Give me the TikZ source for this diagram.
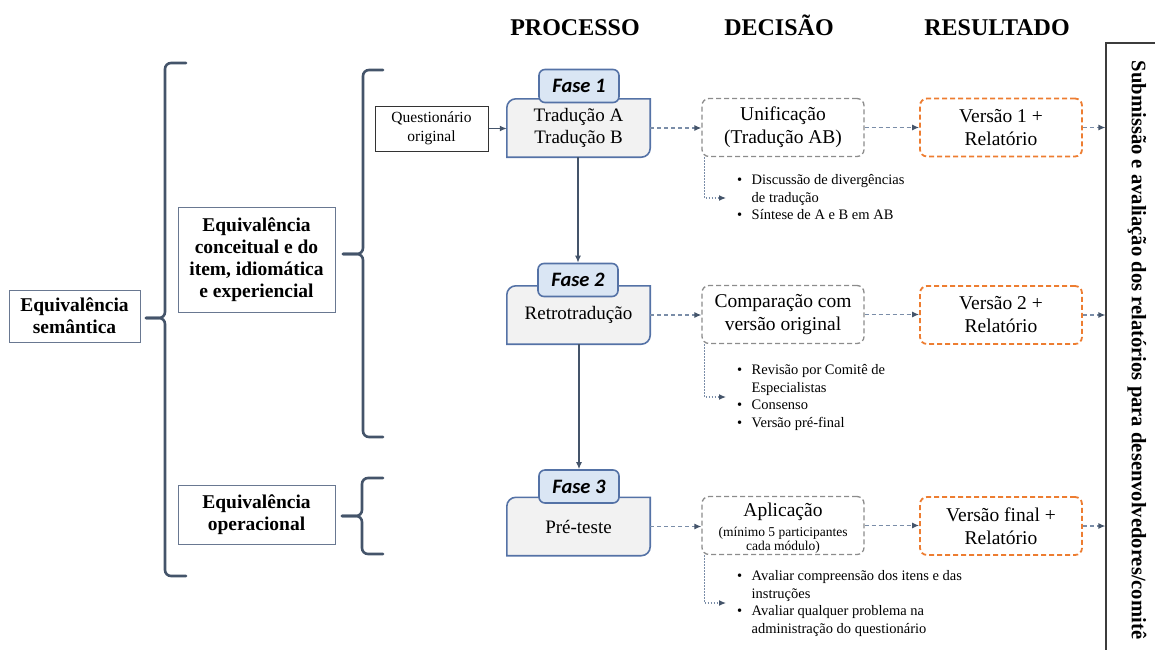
\documentclass[tikz,border=0pt]{standalone}
\usepackage{fontspec}
\setmainfont{Liberation Serif}
\newfontfamily\tabfont{Carlito}
\usetikzlibrary{arrows.meta,backgrounds}

\definecolor{procblue}{RGB}{84,114,166}
\definecolor{procfill}{RGB}{242,242,242}
\definecolor{tabfill}{RGB}{218,230,244}
\definecolor{dark}{RGB}{68,84,106}
\definecolor{dashblue}{RGB}{122,141,168}
\definecolor{decgray}{RGB}{140,140,140}
\definecolor{resorange}{RGB}{237,125,49}
\definecolor{eqborder}{RGB}{105,120,145}
\definecolor{sideline}{RGB}{60,60,60}

\newcommand\fs[2]{\fontsize{#1}{#2}\selectfont}
\newcommand\bul{\makebox[14.5pt][l]{\textbullet}}
\newcommand\ind{\hspace*{14.5pt}}

% process box: rounded top-left and bottom-right corners only
\newcommand\procshape[1]{%
  \filldraw[procline] (#1.south west) -- ([yshift=-9pt]#1.north west)
    arc[start angle=180,end angle=90,radius=9pt] -- (#1.north east)
    -- ([yshift=9pt]#1.south east)
    arc[start angle=0,end angle=-90,radius=9pt] -- cycle;}

\tikzset{
  head/.style={font=\fs{24}{28}\bfseries, inner sep=0, anchor=base},
  procarea/.style={minimum width=143pt, minimum height=58pt, inner sep=0,
    align=center, font=\fs{19}{22.5}},
  procline/.style={draw=procblue, fill=procfill, line width=1.6pt},
  tab/.style={draw=procblue, fill=tabfill, line width=1.6pt, rounded corners=6pt,
    minimum width=80pt, minimum height=33pt, inner sep=0,
    font=\tabfont\bfseries\itshape\fs{20.5}{24}},
  dec/.style={draw=decgray, dash pattern=on 5pt off 3pt, line width=1.3pt,
    rounded corners=7pt, minimum width=162pt, minimum height=58pt, inner sep=0,
    align=center, font=\fs{19.5}{23}},
  res/.style={draw=resorange, dash pattern=on 5pt off 3pt, line width=1.8pt,
    rounded corners=7pt, minimum width=162pt, minimum height=58pt, inner sep=0,
    align=center, font=\fs{19.5}{23}},
  eqbox/.style={draw=eqborder, line width=1pt, inner sep=0, align=center,
    font=\fs{19.5}{22}\bfseries},
  brace/.style={draw=dark, line width=2.6pt, rounded corners=6pt, line cap=round},
  flow/.style={draw=dark, line width=1.3pt, -{Latex[length=7pt,width=6pt]}},
  dashflow/.style={draw=dashblue, line width=1.2pt, dash pattern=on 4pt off 3pt,
    -{Latex[length=7pt,width=6pt,color=dark]}},
  dotflow/.style={draw=dashblue, line width=1.2pt, dash pattern=on 1.5pt off 1.5pt,
    -{Latex[length=7pt,width=6pt,color=dark]}},
  notes/.style={anchor=north west, inner sep=0, align=left, font=\fs{14.5}{17.5}},
}

\begin{document}
\begin{tikzpicture}[x=1pt,y=1pt]
\useasboundingbox (0,0) rectangle (1155,-649);

% column headers
\node[head] (hproc) at (575,-35) {PROCESSO};
\node[head] (hdec)  at (779,-35) {DECISÃO};
\node[head] (hres)  at (997,-35) {RESULTADO};

% equivalence boxes
\node[eqbox, minimum width=131pt, minimum height=52pt] (sem) at (74.5,-316)
  {Equivalência\\semântica};
\node[eqbox, minimum width=157pt, minimum height=105pt] (conc) at (256.5,-259.5)
  {Equivalência\\conceitual e do\\item, idiomática\\e experiencial};
\node[eqbox, minimum width=157pt, minimum height=59pt] (oper) at (256.5,-514.5)
  {Equivalência\\operacional};

% braces
\draw[brace] (186,-63) -- (165,-63) -- (165,-318) -- (146,-318);
\draw[brace] (146,-318) -- (165,-318) -- (165,-576) -- (186,-576);
\draw[brace] (383,-70) -- (363,-70) -- (363,-254) -- (343,-254);
\draw[brace] (343,-254) -- (363,-254) -- (363,-437) -- (383,-437);
\draw[brace] (383,-478) -- (362,-478) -- (362,-516) -- (342,-516);
\draw[brace] (342,-516) -- (362,-516) -- (362,-554) -- (383,-554);

% source questionnaire
\node[draw=black!80, line width=1pt, minimum width=113pt, minimum height=45pt,
  inner sep=0, align=center, font=\fs{15.5}{19}] (q) at (431.5,-128.5)
  {Questionário\\original};

% process column
\node[procarea] (p1) at (578.5,-128) {Tradução A\\Tradução B};
\node[procarea] (p2) at (578.5,-315) {Retrotradução};
\node[procarea] (p3) at (578.5,-526.5) {Pré-teste};
\begin{scope}[on background layer]
  \procshape{p1}
  \procshape{p2}
  \procshape{p3}
\end{scope}
\node[tab] (t1) at (579,-86) {Fase 1};
\node[tab] (t2) at (578,-280) {Fase 2};
\node[tab] (t3) at (579,-486.5) {Fase 3};

\draw[flow] (q.east) -- (q.east -| p1.west);
\draw[flow] (p1.south -| t2.north) -- (t2.north);
\draw[flow] (p2.south -| t3.north) -- (t3.north);

% decision column
\node[dec] (d1) at (783,-127.5) {Unificação\\(Tradução AB)};
\node[dec] (d2) at (783,-314.5) {Comparação com\\versão original};
\node[dec] (d3) at (783,-525.5) {};
\node[font=\fs{19.5}{23}, inner sep=0] (d3a) at (783,-512) {Aplicação};
\node[font=\fs{13.5}{14.5}, align=center, inner sep=0] (d3b) at (783,-540)
  {(mínimo 5 participantes\\cada módulo)};

% result column
\node[res] (r1) at (1001,-127.5) {Versão 1 +\\Relatório};
\node[res] (r2) at (1001,-315) {Versão 2 +\\Relatório};
\node[res] (r3) at (1001,-526) {Versão final +\\Relatório};

% submission panel
\node[draw=sideline, line width=1.2pt, minimum width=64pt, minimum height=640pt,
  inner sep=0] (side) at (1138,-363) {};
\node[rotate=-90, font=\fs{20.6}{24}\bfseries, inner sep=0] (sidetxt) at (1137,-350)
  {Submissão e avaliação dos relatórios para desenvolvedores/comitê};

% horizontal connectors
\draw[dashflow] (p1.east) -- (p1.east -| d1.west);
\draw[dashflow] (p2.east) -- (p2.east -| d2.west);
\draw[dashflow] (p3.east) -- (p3.east -| d3.west);
\draw[dashflow] (d1.east) -- (d1.east -| r1.west);
\draw[dashflow] (d2.east) -- (d2.east -| r2.west);
\draw[dashflow] (d3.east) -- (d3.east -| r3.west);
\draw[dashflow] (r1.east) -- (r1.east -| side.west);
\draw[dashflow] (r2.east) -- (r2.east -| side.west);
\draw[dashflow] (r3.east) -- (r3.east -| side.west);

% notes under each decision
\coordinate (e1) at (726,-198);
\coordinate (e2) at (726,-397);
\coordinate (e3) at (726,-603);
\draw[dotflow] ([xshift=3pt]d1.south west) |- (e1);
\draw[dotflow] ([xshift=3pt]d2.south west) |- (e2);
\draw[dotflow] ([xshift=3pt]d3.south west) |- (e3);

\node[notes] (n1) at (737,-174.5)
  {\bul Discussão de divergências\\\ind de tradução\\\bul Síntese de A e B em AB};
\node[notes] (n2) at (737,-364.5)
  {\bul Revisão por Comitê de\\\ind Especialistas\\\bul Consenso\\\bul Versão pré-final};
\node[notes] (n3) at (737,-570.5)
  {\bul Avaliar compreensão dos itens e das\\\ind instruções\\\bul Avaliar qualquer problema na\\\ind administração do questionário};
\end{tikzpicture}
\end{document}
